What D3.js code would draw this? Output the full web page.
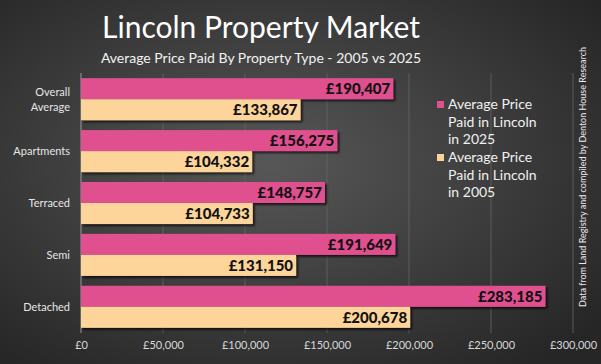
<!DOCTYPE html>
<html>
<head>
<meta charset="utf-8">
<script src="https://cdn.jsdelivr.net/npm/d3@7"></script>
<style>
  html, body { margin: 0; padding: 0; background: #333; }
  svg { display: block; }
</style>
</head>
<body>
<svg id="chart"></svg>
<script>
// chart data
const categories = ["Overall Average", "Apartments", "Terraced", "Semi", "Detached"];
const price2025 = [190407, 156275, 148757, 191649, 283185];
const price2005 = [133867, 104332, 104733, 131150, 200678];
const xTicks = [0, 50000, 100000, 150000, 200000, 250000, 300000];

const WIDTH = 601;
const HEIGHT = 364;
const PINK = "#e0508e";
const TAN = "#fdd499";
const FONT = "Lato, 'Open Sans', sans-serif";

const svg = d3.select("#chart")
  .attr("width", WIDTH)
  .attr("height", HEIGHT)
  .style("font-family", FONT);

const defs = svg.append("defs");
const bg = defs.append("radialGradient")
  .attr("id", "bg")
  .attr("cx", "45%").attr("cy", "45%").attr("r", "70%");
bg.append("stop").attr("offset", "0%").attr("stop-color", "#575757");
bg.append("stop").attr("offset", "100%").attr("stop-color", "#262626");

const shadow = defs.append("filter").attr("id", "shadow")
  .attr("x", "-5%").attr("y", "-20%").attr("width", "115%").attr("height", "160%");
shadow.append("feDropShadow")
  .attr("dx", 2).attr("dy", 2).attr("stdDeviation", 1)
  .attr("flood-color", "#000").attr("flood-opacity", 0.7);

svg.append("rect")
  .attr("width", WIDTH).attr("height", HEIGHT)
  .attr("fill", "url(#bg)");

// scales
const x = d3.scaleLinear()
  .domain([0, 300000])
  .range([81, 573]);

const y = d3.scaleBand()
  .domain(categories)
  .range([73, 333])
  .paddingInner(0.19)
  .paddingOuter(0.1);

const sub = d3.scaleBand()
  .domain(["2025", "2005"])
  .range([0, y.bandwidth()]);

// gridlines
svg.append("g")
  .selectAll("line")
  .data(xTicks.slice(1))
  .join("line")
    .attr("x1", d => x(d)).attr("x2", d => x(d))
    .attr("y1", 73).attr("y2", 333)
    .attr("stroke", "#666")
    .attr("stroke-width", 0.8);

// x axis
const xAxis = d3.axisBottom(x)
  .tickValues(xTicks)
  .tickSize(0)
  .tickPadding(8)
  .tickFormat(d => "£" + d3.format(",")(d));

svg.append("g")
  .attr("transform", "translate(0,333)")
  .call(xAxis)
  .call(g => g.select(".domain").remove())
  .call(g => g.selectAll("text")
    .attr("fill", "#d8d8d8")
    .style("font-size", "11px")
    .style("font-family", FONT));

// y axis line
svg.append("line")
  .attr("x1", x(0)).attr("x2", x(0))
  .attr("y1", 73).attr("y2", 333)
  .attr("stroke", "#9a9a9a")
  .attr("stroke-width", 1);

// category labels
svg.append("g")
  .selectAll("text")
  .data(categories)
  .join("text")
    .attr("text-anchor", "end")
    .attr("fill", "#e6e6e6")
    .style("font-size", "11px")
    .each(function(d) {
      const words = d === "Overall Average" ? ["Overall", "Average"] : [d];
      const t = d3.select(this);
      words.forEach((w, i) => {
        t.append("tspan")
          .attr("x", 70)
          .attr("y", y(d) + y.bandwidth() / 2 + 4 + (i - (words.length - 1) / 2) * 15)
          .text(w);
      });
    });

// bars
const rows = categories.map((c, i) => ({ cat: c, v2025: price2025[i], v2005: price2005[i] }));
const series = [
  { key: "2025", color: PINK, get: d => d.v2025 },
  { key: "2005", color: TAN, get: d => d.v2005 }
];

series.forEach(s => {
  const g = svg.append("g");
  g.selectAll("rect")
    .data(rows)
    .join("rect")
      .attr("x", x(0))
      .attr("y", d => y(d.cat) + sub(s.key))
      .attr("width", d => x(s.get(d)) - x(0))
      .attr("height", sub.bandwidth())
      .attr("fill", s.color)
      .attr("filter", "url(#shadow)");
  g.selectAll("text")
    .data(rows)
    .join("text")
      .attr("x", d => x(s.get(d)) - 3)
      .attr("y", d => y(d.cat) + sub(s.key) + sub.bandwidth() / 2 + 5.5)
      .attr("text-anchor", "end")
      .attr("fill", "#111")
      .style("font-size", "15px")
      .style("font-weight", "900")
      .text(d => "£" + d3.format(",")(s.get(d)));
});

// title
svg.append("text")
  .attr("x", 261).attr("y", 38)
  .attr("text-anchor", "middle")
  .attr("fill", "#fff")
  .style("font-size", "30px")
  .text("Lincoln Property Market");

svg.append("text")
  .attr("x", 261).attr("y", 63)
  .attr("text-anchor", "middle")
  .attr("fill", "#f2f2f2")
  .style("font-size", "14px")
  .text("Average Price Paid By Property Type - 2005 vs 2025");

// legend
const legend = svg.append("g");
const legendLines = [["Average Price", "Paid in Lincoln", "in 2025"], ["Average Price", "Paid in Lincoln", "in 2005"]];
[PINK, TAN].forEach((col, i) => {
  const top = 109 + i * 53;
  legend.append("rect")
    .attr("x", 437).attr("y", top - 8)
    .attr("width", 7).attr("height", 7)
    .attr("fill", col);
  const t = legend.append("text")
    .attr("fill", "#f0f0f0")
    .style("font-size", "14px");
  legendLines[i].forEach((line, j) => {
    t.append("tspan").attr("x", 448).attr("y", top + j * 17.5).text(line);
  });
});

// source note
svg.append("text")
  .attr("transform", "translate(586,177) rotate(-90)")
  .attr("text-anchor", "middle")
  .attr("fill", "#eaeaea")
  .style("font-size", "9px")
  .text("Data from Land Registry and compiled by Denton House Research");
</script>
</body>
</html>
